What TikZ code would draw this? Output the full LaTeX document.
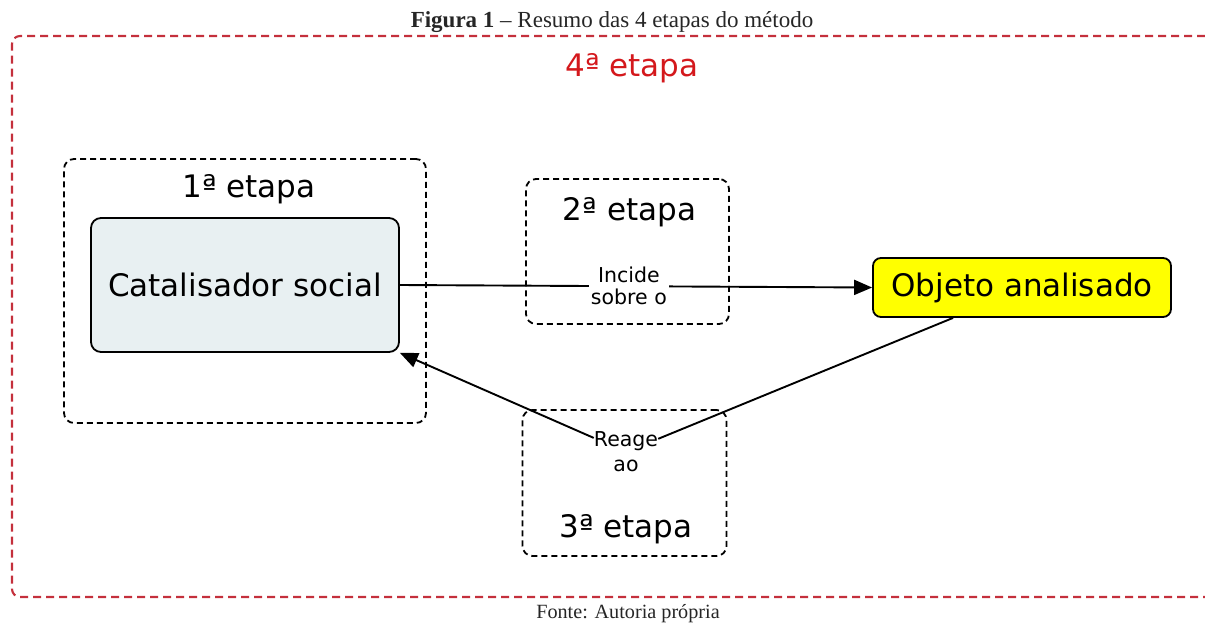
\documentclass[tikz,border=0pt]{standalone}
\usepackage{fontspec}
\setmainfont{DejaVu Sans}
\newfontfamily\capfont{Liberation Serif}
\usetikzlibrary{arrows.meta,calc}
\definecolor{redline}{RGB}{196,48,60}
\definecolor{redtext}{RGB}{212,24,28}
\definecolor{catfill}{RGB}{232,240,242}
\definecolor{objfill}{RGB}{255,255,0}
\begin{document}
\begin{tikzpicture}[x=1pt,y=-1pt,
  stagebox/.style={draw=black, dash pattern=on 6pt off 4pt, line width=1.8pt, rounded corners=10pt, inner sep=0pt},
  concept/.style={draw=black, line width=1.8pt, rounded corners=10pt, inner sep=0pt, font=\fontsize{31}{36}\selectfont},
  stagelabel/.style={anchor=base, inner sep=0pt, font=\fontsize{31}{36}\selectfont},
  linklabel/.style={align=center, font=\fontsize{20.5}{22}\selectfont, inner xsep=2pt, inner ysep=1pt},
  conn/.style={line width=1.9pt},
  tipped/.style={-{Triangle[length=18pt,width=15pt]}},
  captext/.style={anchor=base, inner sep=0pt, text=black!85}
]
\useasboundingbox (0,0) rectangle (1205,624);

% caption and source
\node[captext, font=\capfont\fontsize{23}{27}\selectfont] (title) at (612,27) {\textbf{Figura 1} – Resumo das 4 etapas do método};
\node[captext, font=\capfont\fontsize{20.2}{24}\selectfont] (fonte) at (628,618) {Fonte: Autoria própria};

% 4th stage frame (open on the right)
\coordinate (f1) at (1205,36);
\coordinate (f2) at (12,36);
\coordinate (f3) at (12,597);
\coordinate (f4) at (1205,597);
\draw[redline, line width=2.1pt, dash pattern=on 8pt off 5pt, rounded corners=8pt] (f1) -- (f2) -- (f3) -- (f4);
\node[stagelabel, text=redtext] (s4) at (632,76.5) {4ª etapa};

% stage boxes
\node[stagebox, minimum width=362pt, minimum height=264pt] (b1) at (245,291) {};
\node[stagebox, minimum width=203pt, minimum height=145pt] (b2) at (627.5,251.5) {};
\node[stagebox, minimum width=204pt, minimum height=146pt] (b3) at (624.5,483) {};
\node[stagelabel] (s1) at (249,197) {1ª etapa};
\node[stagelabel] (s2) at (629.5,220) {2ª etapa};
\node[stagelabel] (s3) at (626,537) {3ª etapa};

% concepts
\node[concept, fill=catfill, minimum width=308pt, minimum height=134pt] (cat) at (245,285) {Catalisador social};
\node[concept, fill=objfill, rounded corners=8pt, minimum width=298pt, minimum height=59pt] (obj) at (1022,287.5) {Objeto analisado};

% connectors
\draw[conn, tipped] (cat.east) -- node[linklabel, fill=white, pos=0.485] (inc) {Incide\\sobre o} (obj.west);

\node[linklabel, inner xsep=0pt, inner ysep=0pt, font=\fontsize{20.5}{25}\selectfont] (reage) at (626,452) {Reage\\ao};
\coordinate (objb) at ($(obj.south west)!0.27!(obj.south east)$);
\draw[conn] (objb) -- (reage);
\draw[conn, tipped] (reage) -- (cat.south east);
\end{tikzpicture}
\end{document}
